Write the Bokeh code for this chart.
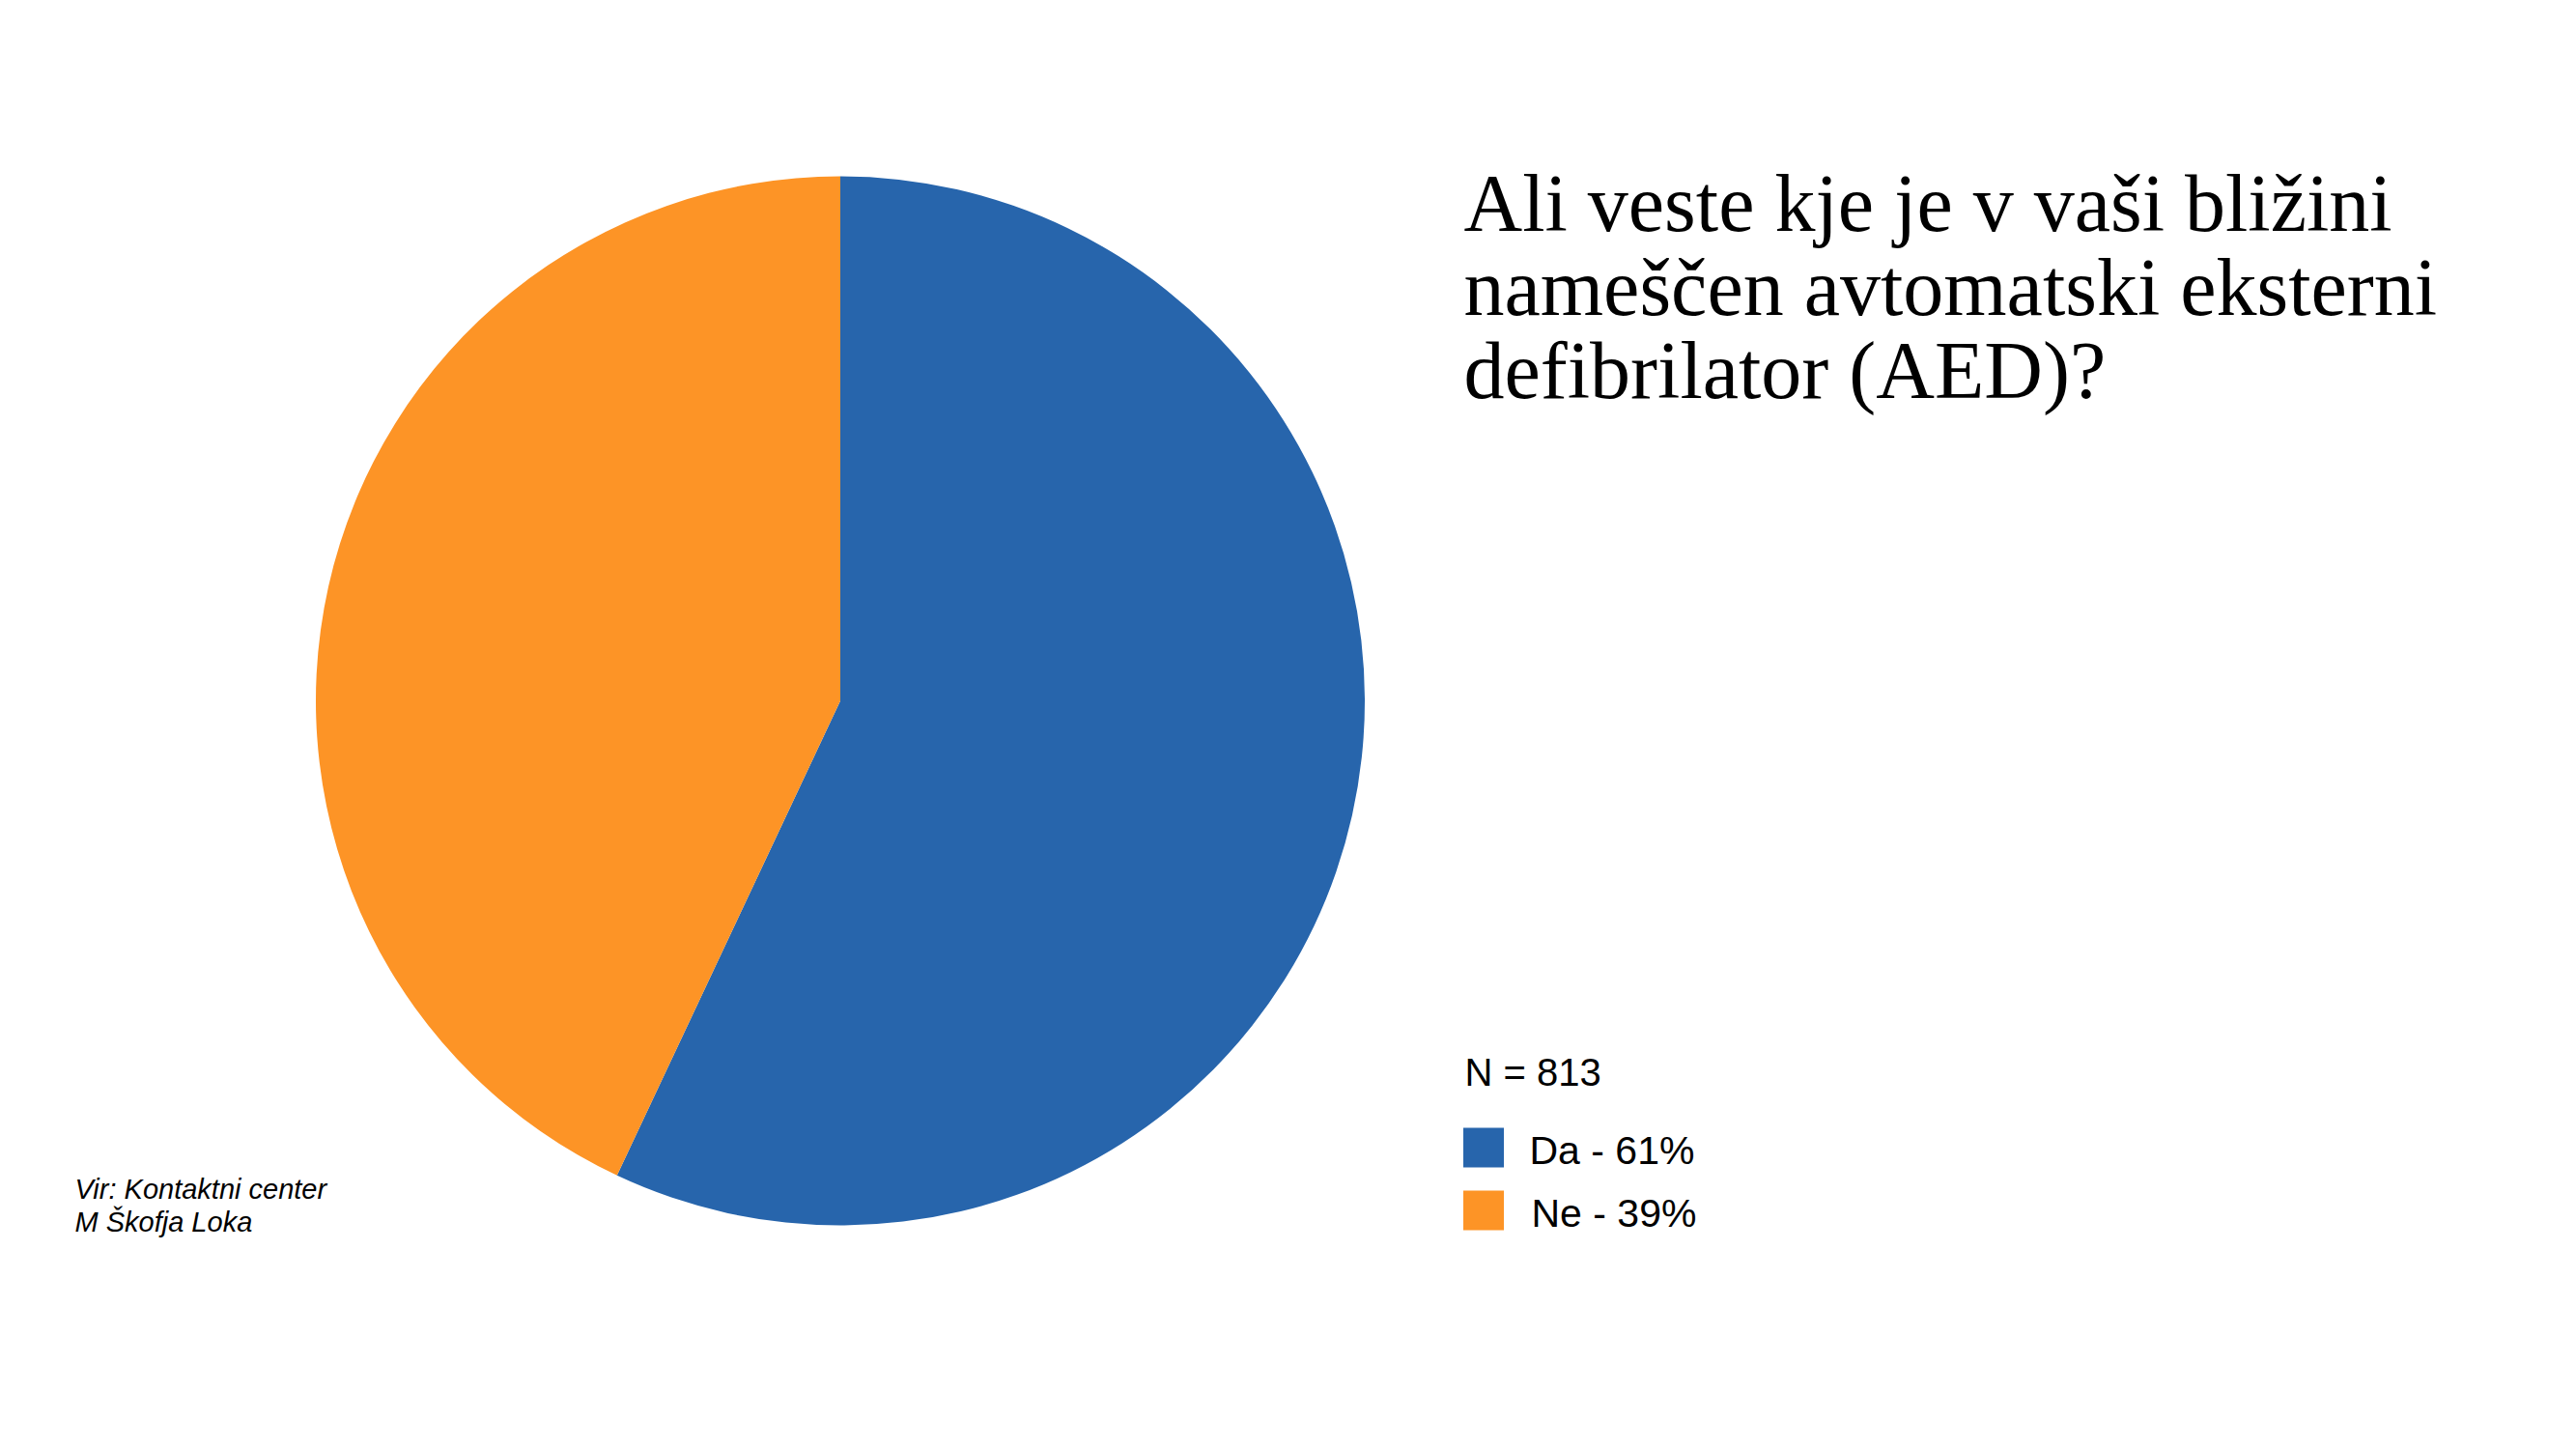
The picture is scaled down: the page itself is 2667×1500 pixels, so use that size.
import math
from bokeh.plotting import figure
from bokeh.models import ColumnDataSource, Range1d, Label
from bokeh.embed import file_html
from bokeh.resources import INLINE

# ---- data ----
categories = ["Da", "Ne"]
shares = [57.0, 43.0]          # slice sizes as drawn in the picture
legend_labels = ["Da - 61%", "Ne - 39%"]
colors = ["#2765AC", "#FD9426"]
title_lines = ["Ali veste kje je v vaši bližini",
               "nameščen avtomatski eksterni",
               "defibrilator (AED)?"]
n_text = "N = 813"
source_lines = ["Vir: Kontaktni center", "M Škofja Loka"]

W, H = 2651, 1484
DX, DY = 8, -8
p = figure(width=W, height=H, output_backend="svg", toolbar_location=None,
           x_range=Range1d(0, W), y_range=Range1d(0, H), min_border=0)
p.axis.visible = False
p.grid.visible = False
p.outline_line_color = None
p.background_fill_color = "white"
p.border_fill_color = "white"

# ---- pie: first slice starts at 12 o'clock and runs clockwise ----
total = sum(shares)
starts, ends = [], []
cum = 0.0
for s in shares:
    a0 = math.pi / 2 - 2 * math.pi * cum / total
    a1 = math.pi / 2 - 2 * math.pi * (cum + s) / total
    starts.append(a1)
    ends.append(a0)
    cum += s
src = ColumnDataSource(dict(cat=categories, share=shares, start=starts, end=ends, color=colors))
cx, cy, r = 861.5 + DX, 767 + DY, 543
p.wedge(x=cx, y=cy, radius=r, start_angle="start", end_angle="end",
        fill_color="color", line_color=None, source=src)

# ---- title ----
for i, t in enumerate(title_lines):
    p.add_layout(Label(x=1507 + DX, y=1252 + DY + 30 - i * 86.5, text=t, text_font="Liberation Serif",
                       text_font_size="84px", text_color="black", text_baseline="alphabetic"))

# ---- N and legend ----
p.add_layout(Label(x=1508 + DX, y=369 + DY + 14, text=n_text, text_font="Liberation Sans",
                   text_font_size="40px", text_color="black", text_baseline="alphabetic"))
leg = ColumnDataSource(dict(x=[1527.5 + DX] * 2, y=[304.5 + DY, 239.5 + DY], color=colors))
p.rect(x="x", y="y", width=42, height=41, fill_color="color", line_color=None, source=leg)
lab_x = [1575 + DX, 1577 + DX]
lab_y = [287 + DY + 15, 222 + DY + 15]
for i, lab in enumerate(legend_labels):
    p.add_layout(Label(x=lab_x[i], y=lab_y[i], text=lab,
                       text_font="Liberation Sans", text_font_size="41px",
                       text_color="black", text_baseline="alphabetic"))

# ---- source note ----
for i, t in enumerate(source_lines):
    p.add_layout(Label(x=69 + DX, y=251 + DY + 11 - i * 34, text=t, text_font="Liberation Sans",
                       text_font_size="29px", text_font_style="italic",
                       text_color="black", text_baseline="alphabetic"))

open("out.html", "w").write(file_html(p, INLINE))
